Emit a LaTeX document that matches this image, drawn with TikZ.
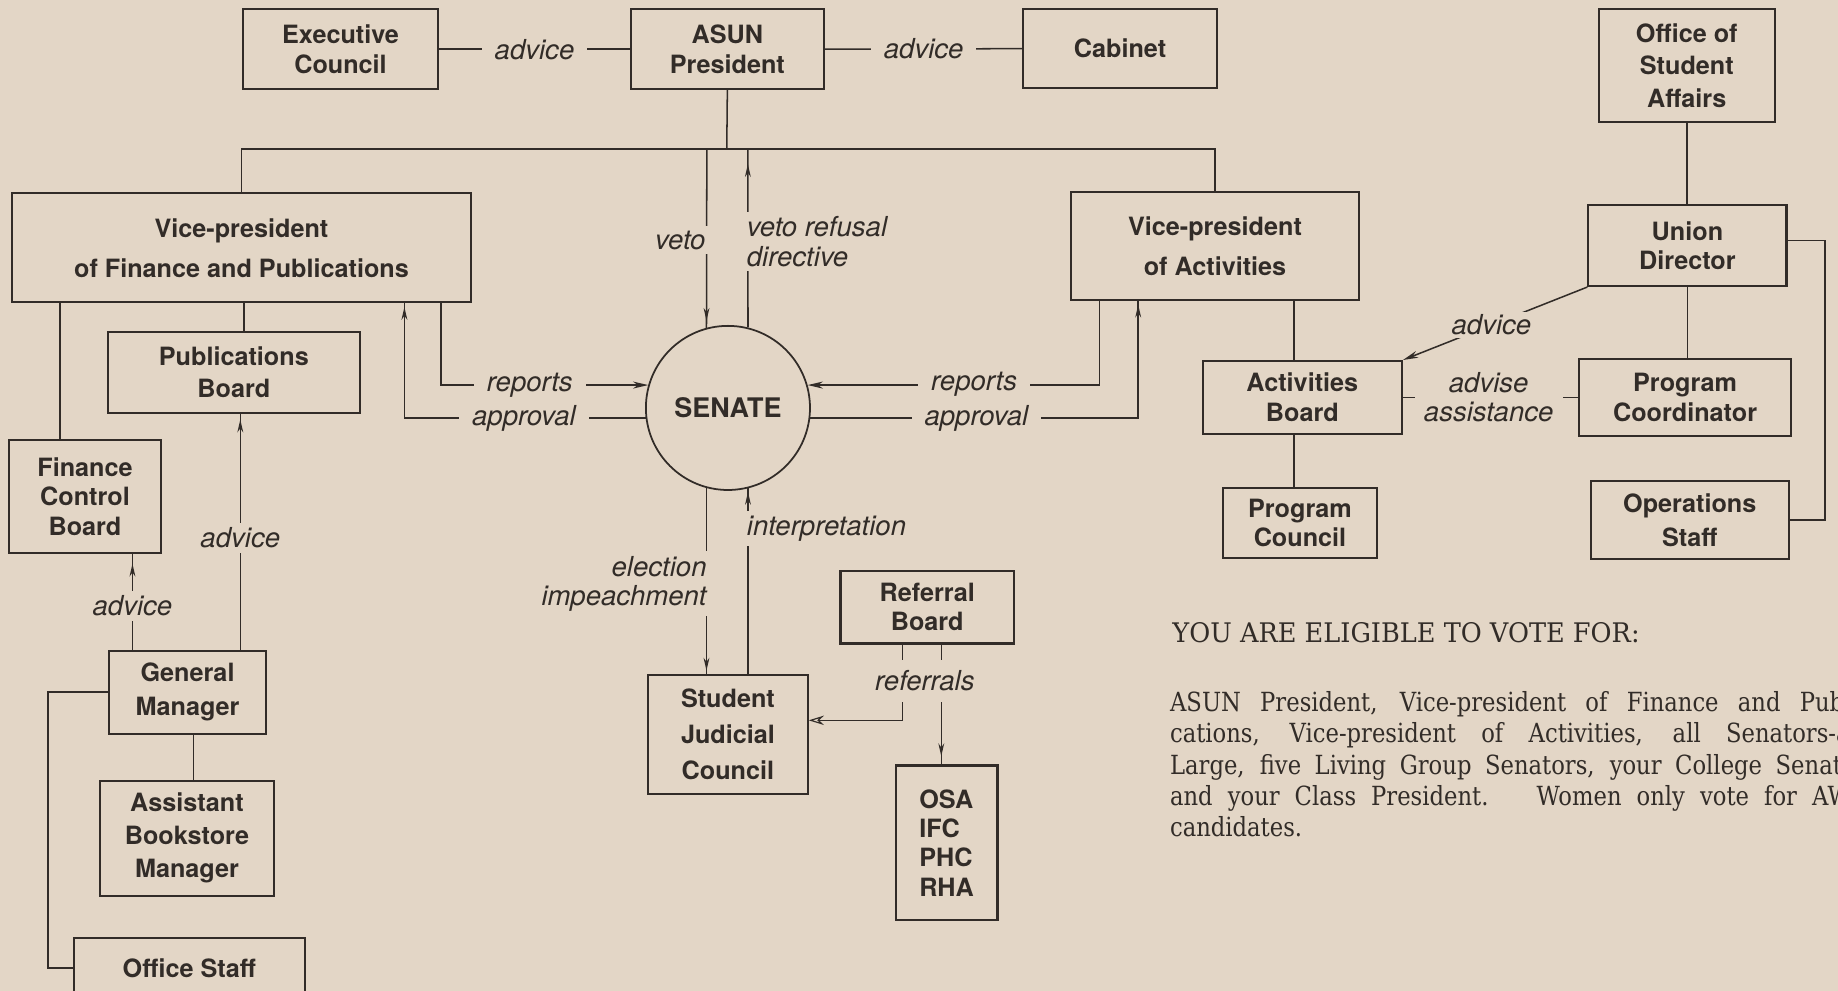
\documentclass[tikz,border=0pt]{standalone}
\usepackage{fontspec}
\setsansfont{TeX Gyre Heros}
\newfontfamily\parafont[FakeStretch=0.86]{DejaVu Serif}
\newfontfamily\titlefont[FakeStretch=0.95]{DejaVu Serif}
\usetikzlibrary{arrows.meta,decorations.markings,calc}
\definecolor{paper}{RGB}{227,214,198}
\definecolor{ink}{RGB}{50,44,40}
\tikzset{
  otip/.tip={Stealth[open,length=11pt,width=5pt,line width=1pt]},
  ftip/.tip={Stealth[length=13pt,width=6pt]},
  box/.style={draw=ink, line width=1.8pt, align=center, inner sep=2pt, text=ink,
    font=\sffamily\bfseries\fontsize{21.5}{25}\selectfont},
  lbl/.style={fill=paper, inner xsep=11pt, inner ysep=4pt, text=ink,
    font=\sffamily\itshape\fontsize{23.5}{25}\selectfont},
  conn/.style={draw=ink, line width=1.3pt},
  marr/.style={postaction={decorate,decoration={markings,
    mark=at position #1 with {\arrow{Stealth[open,length=11pt,width=5pt,line width=1pt]}}}}},
}
\begin{document}
\begin{tikzpicture}[x=1pt,y=-1pt]
\useasboundingbox (0,0) rectangle (1568,845);
\clip (0,0) rectangle (1568,845);
\fill[paper] (0,0) rectangle (1568,845);

% ---------- nodes ----------
\node[box, minimum width=167pt, minimum height=68pt] (exec) at (290.5,42) {Executive\\Council};
\node[box, minimum width=165pt, minimum height=68pt] (asun) at (620.5,42) {ASUN\\President};
\node[box, minimum width=165pt, minimum height=67pt] (cabinet) at (955.5,41.5) {Cabinet};
\node[box, minimum width=150pt, minimum height=96pt, font=\sffamily\bfseries\fontsize{21.5}{28}\selectfont] (osa) at (1439,56) {Office of\\Student\\Affairs};
\node[box, minimum width=392pt, minimum height=93pt] (vpfin) at (206,211.5) {Vice-president\\[9pt]of Finance and Publications};
\node[box, minimum width=245pt, minimum height=92pt] (vpact) at (1036.5,210) {Vice-president\\[9pt]of Activities};
\node[box, minimum width=169pt, minimum height=69pt] (union) at (1439.5,209.5) {Union\\Director};
\node[box, minimum width=215pt, minimum height=69pt] (pubboard) at (199.5,317.5) {Publications\\[2pt]Board};
\node[draw=ink, line width=1.5pt, circle, minimum size=140pt, inner sep=0pt, text=ink,
  font=\sffamily\bfseries\fontsize{23}{25}\selectfont] (senate) at (621,348) {SENATE};
\node[box, minimum width=170pt, minimum height=62pt] (actboard) at (1111,339) {Activities\\Board};
\node[box, minimum width=181pt, minimum height=66pt] (progcoord) at (1437.5,339) {Program\\Coordinator};
\node[box, minimum width=129pt, minimum height=97pt] (fcb) at (72.5,423.5) {Finance\\Control\\Board};
\node[box, minimum width=132pt, minimum height=60pt] (progcouncil) at (1109,446) {Program\\Council};
\node[box, minimum width=169pt, minimum height=67pt] (opstaff) at (1441.5,443.5) {Operations\\[4pt]Staff};
\node[box, minimum width=148pt, minimum height=62pt] (referral) at (791,518) {Referral\\Board};
\node[box, minimum width=134pt, minimum height=71pt] (genman) at (160,590.5) {General\\[4pt]Manager};
\node[box, minimum width=136pt, minimum height=101pt] (sjc) at (621,626.5) {Student\\[6pt]Judicial\\[6pt]Council};
\node[box, minimum width=149pt, minimum height=98pt] (abm) at (159.5,715) {Assistant\\[3pt]Bookstore\\[3pt]Manager};
\node[box, minimum width=87pt, minimum height=132pt, align=left] (osalist) at (807.5,719) {OSA\\IFC\\PHC\\RHA};
\node[box, minimum width=197pt, minimum height=52pt] (officestaff) at (161.5,826) {Office Staff};

% ---------- helper positions ----------
\coordinate (bus) at (620,127);
\coordinate (vetotop) at (603,127);
\coordinate (reftop) at (638,127);
\coordinate (rlx) at (376,0);
\coordinate (alx) at (345,0);
\coordinate (rrx) at (938,0);
\coordinate (arx) at (971,0);
\coordinate (rfl) at (770,0);
\coordinate (rfr) at (803,0);
\coordinate (pgx) at (205,0);
\coordinate (fgx) at (113,0);
\coordinate (ffx) at (51,0);
\coordinate (fpx) at (208,0);
\coordinate (gax) at (165,0);
\coordinate (gox) at (41,0);
\coordinate (aax) at (1104,0);
\coordinate (uox) at (1557,0);
\coordinate (uoy) at (0,205);

% ---------- connectors ----------
\draw[conn] (exec.east) -- (asun.west) node[lbl, pos=0.5] (ladv1) {advice};
\draw[conn] (asun.east) -- (cabinet.west) node[lbl, pos=0.5] (ladv2) {advice};

\draw[conn] (asun.south) -- (bus);
\draw[conn] (vpfin.north) |- (bus) -| (vpact.north);

\draw[conn, marr=-6pt] (vetotop) -- (senate.105);
\node[lbl, anchor=east, inner xsep=5pt] (lveto) at (607,205) {veto};
\draw[conn, marr=-13pt] (senate.76) -- (reftop);
\node[lbl, anchor=west, align=left, inner xsep=4pt] (lrefusal) at (633,206) {veto refusal\\directive};

\draw[conn, -{ftip}] (vpfin.south -| rlx) |- (senate.164);
\node[lbl] (lrep1) at (452,329) {reports};
\draw[conn, marr=-3pt] (senate.187) -| (vpfin.south -| alx);
\node[lbl] (lapp1) at (447,357) {approval};

\draw[conn, -{ftip}] (vpact.south -| rrx) |- (senate.16);
\node[lbl] (lrep2) at (831,328) {reports};
\draw[conn, marr=-3pt] (senate.353) -| (vpact.south -| arx);
\node[lbl] (lapp2) at (833,357) {approval};

\draw[conn, marr=-3pt] (senate.255) -- (senate.255 |- sjc.north);
\node[lbl, anchor=east, align=right, inner xsep=4pt] (lelec) at (607,498) {election\\impeachment};
\draw[conn, marr=-3pt] (senate.284 |- sjc.north) -- (senate.284);
\node[lbl, anchor=west, inner xsep=4pt] (linterp) at (633,451) {interpretation};

\draw[conn, -{Stealth[open,length=13pt,width=8pt,line width=1pt]}] (referral.south -| rfl) |- ($(sjc.east)+(0,-12)$);
\draw[conn, marr=-7pt] (referral.south -| rfr) -- (osalist.north -| rfr);
\node[lbl, inner ysep=9pt, inner xsep=3pt] (lreferrals) at (789,581) {referrals};

\draw[conn] (vpfin.south -| ffx) -- (fcb.north -| ffx);
\draw[conn] (vpfin.south -| fpx) -- (pubboard.north -| fpx);
\draw[conn, marr=-5pt] (genman.north -| pgx) -- (pubboard.south -| pgx);
\node[lbl, inner xsep=3pt] (ladv3) at (205,459) {advice};
\draw[conn, marr=-8pt] (genman.north -| fgx) -- (fcb.south -| fgx);
\node[lbl, inner xsep=3pt] (ladv4) at (113,517) {advice};
\draw[conn] (genman.south -| gax) -- (abm.north -| gax);
\draw[conn] (genman.west) -| (gox |- officestaff.west) -- (officestaff.west);

\draw[conn] (vpact.south -| aax) -- (actboard.north -| aax);
\draw[conn] (actboard.south -| aax) -- (progcouncil.north -| aax);

\draw[conn] (osa.south) -- (osa.south |- union.north);
\draw[conn] (union.south) -- (union.south |- progcoord.north);
\draw[conn] (union.east |- uoy) -| (uox |- opstaff.east) -- (opstaff.east);

\draw[conn, -{ftip}] (union.south west) -- (actboard.north east)
  node[lbl, pos=0.52, inner xsep=3pt, inner ysep=2pt] (ladv5) {advice};
\draw[conn] (actboard.east) -- (progcoord.west)
  node[lbl, pos=0.49, align=center, inner xsep=8pt] (ladv6) {advise\\assistance};

% ---------- text block ----------
\node[anchor=west, inner sep=0pt, text=ink, font=\titlefont\fontsize{23}{26}\selectfont] (vote) at (1000,540) {YOU ARE ELIGIBLE TO VOTE FOR:};
\node[anchor=north west, inner sep=0pt, text=ink, font=\parafont\fontsize{22.5}{26.5}\selectfont] (para) at (998,590) {\vbox{%
\hbox to 594pt{ASUN President, Vice-president of Finance and Publi-}%
\hbox to 594pt{cations, Vice-president of Activities, all Senators-at-}%
\hbox to 594pt{Large, five Living Group Senators, your College Senator}%
\hbox to 594pt{and your Class President. \ Women only vote for AWS}%
\hbox{candidates.}}};
\end{tikzpicture}
\end{document}
